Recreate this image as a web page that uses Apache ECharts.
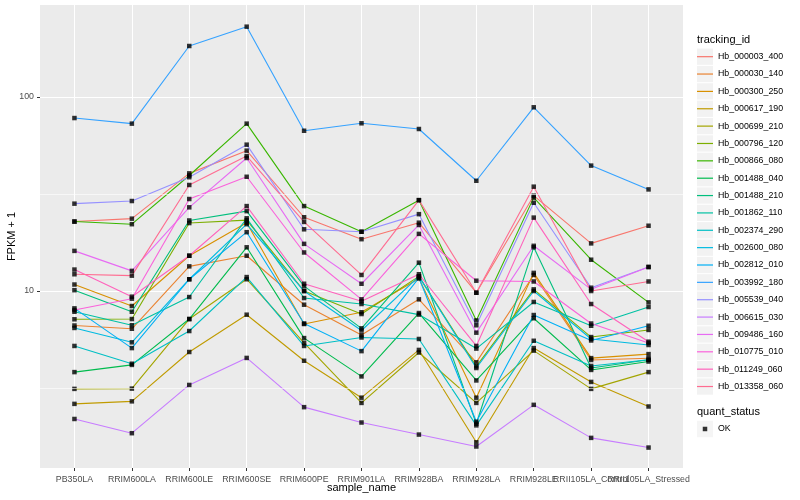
<!DOCTYPE html>
<html><head><meta charset="utf-8">
<script src="https://cdn.jsdelivr.net/npm/echarts@6/dist/echarts.min.js"></script>
<style>html,body{margin:0;padding:0;background:#fff}#c{width:800px;height:500px}</style>
</head><body><div id="c"></div>
<script>
const categories = ['PB350LA','RRIM600LA','RRIM600LE','RRIM600SE','RRIM600PE','RRIM901LA','RRIM928BA','RRIM928LA','RRIM928LE','RRII105LA_Control','RRII105LA_Stressed'];
const trackingIds = ['Hb_000003_400','Hb_000030_140','Hb_000300_250','Hb_000617_190','Hb_000699_210','Hb_000796_120','Hb_000866_080','Hb_001488_040','Hb_001488_210','Hb_001862_110','Hb_002374_290','Hb_002600_080','Hb_002812_010','Hb_003992_180','Hb_005539_040','Hb_006615_030','Hb_009486_160','Hb_010775_010','Hb_011249_060','Hb_013358_060'];
const palette = ['#F8766D','#EA8331','#D89000','#C09B00','#A3A500','#7CAE00','#39B600','#00BB4E','#00BF7D','#00C1A3','#00BFC4','#00BAE0','#00B0F6','#35A2FF','#9590FF','#C77CFF','#E76BF3','#FA62DB','#FF62BC','#FF6C91'];

const hb000003_400 = [22.8, 23.6, 40.4, 52.9, 24.0, 18.5, 22.5, 9.8, 31.0, 17.6, 21.7];
const hb000030_140 = [6.64, 6.39, 13.4, 15.2, 8.50, 5.93, 9.06, 4.29, 12.1, 4.41, 4.50];
const hb000300_250 = [10.8, 8.37, 15.2, 22.5, 6.76, 7.77, 11.6, 2.82, 12.4, 4.51, 4.73];
const hb000617_190 = [2.62, 2.70, 4.85, 7.55, 4.37, 2.82, 4.97, 1.66, 5.08, 3.40, 2.54];
const hb000699_210 = [3.13, 3.14, 7.17, 11.5, 5.40, 2.65, 4.82, 2.65, 4.93, 3.13, 3.82];
const hb000796_120 = [7.15, 7.17, 22.4, 23.2, 10.0, 7.61, 11.9, 4.09, 10.2, 5.79, 6.30];
const hb000866_080 = [22.8, 22.1, 39.4, 72.9, 27.4, 20.2, 29.4, 7.05, 30.3, 14.5, 8.74];
const hb001488_040 = [3.82, 4.16, 7.17, 16.8, 5.72, 3.63, 7.70, 3.46, 7.24, 3.92, 4.33];
const hb001488_210 = [10.1, 7.82, 23.1, 25.8, 10.6, 6.42, 14.0, 2.07, 16.8, 4.01, 4.42];
const hb001862_110 = [7.82, 6.66, 9.31, 23.7, 9.20, 8.57, 7.56, 5.05, 8.78, 6.62, 8.27];
const hb002374_290 = [5.21, 4.22, 6.22, 11.8, 5.21, 5.76, 5.66, 2.03, 5.54, 4.11, 4.42];
const hb002600_080 = [6.45, 5.44, 11.5, 22.1, 10.0, 6.26, 11.9, 4.01, 10.0, 5.66, 5.27];
const hb002812_010 = [8.14, 5.08, 11.5, 20.1, 6.80, 4.90, 11.7, 2.12, 7.52, 5.56, 6.62];
const hb003992_180 = [77.9, 72.9, 183.2, 230.4, 67.0, 73.2, 68.4, 37.0, 88.5, 44.3, 33.4];
const hb005539_040 = [28.2, 29.1, 38.6, 56.8, 20.8, 20.2, 24.9, 6.66, 28.5, 10.4, 13.3];
const hb006615_030 = [2.19, 1.85, 3.28, 4.52, 2.52, 2.10, 1.82, 1.58, 2.59, 1.75, 1.56];
const hb009486_160 = [16.1, 12.7, 27.0, 48.5, 17.5, 10.9, 21.9, 6.10, 17.1, 10.2, 13.3];
const hb010775_010 = [7.98, 9.13, 29.8, 38.8, 15.8, 9.06, 19.7, 11.3, 11.2, 6.80, 5.40];
const hb011249_060 = [12.9, 9.35, 15.2, 27.4, 10.9, 8.85, 12.2, 5.21, 23.9, 8.57, 5.48];
const hb013358_060 = [12.2, 12.0, 35.2, 49.6, 22.7, 12.1, 29.4, 9.8, 34.5, 10.0, 11.2];

const valueRows = [hb000003_400, hb000030_140, hb000300_250, hb000617_190, hb000699_210, hb000796_120, hb000866_080, hb001488_040, hb001488_210, hb001862_110, hb002374_290, hb002600_080, hb002812_010, hb003992_180, hb005539_040, hb006615_030, hb009486_160, hb010775_010, hb011249_060, hb013358_060];

const yMajorTicks = [10, 100];
const yMinorBreaks = [3.1623, 31.623];
const catIdx = categories.map((c, i) => i);
const mainLabelIdx = catIdx.filter(i => i !== 9);
const extraLabelIdx = [9];

const FONT = '"Liberation Sans", Arial, Helvetica, sans-serif';
const chart = echarts.init(document.getElementById('c'), null, {renderer: 'canvas'});

const series = [];
series.push({
  type: 'line', name: '__grid', data: [], z: 1, silent: true,
  markLine: {
    silent: true, symbol: 'none', label: {show: false}, animation: false,
    lineStyle: {color: '#FFFFFF', width: 0.6, type: 'solid'},
    data: yMinorBreaks.map(v => ({yAxis: v}))
  }
});
trackingIds.forEach((id, k) => {
  series.push({
    type: 'line', name: id, z: 2,
    data: valueRows[k].map((v, i) => [i, v]),
    showSymbol: false, symbol: 'none', clip: false,
    color: palette[k],
    lineStyle: {color: palette[k], width: 1.1},
    itemStyle: {color: palette[k]},
    emphasis: {disabled: true}
  });
});
const okPoints = [];
valueRows.forEach(row => row.forEach((v, i) => okPoints.push([i, v])));
series.push({
  type: 'scatter', name: 'OK', z: 3, data: okPoints,
  symbol: 'rect', symbolSize: 4.5, clip: false,
  itemStyle: {color: '#000000'}, emphasis: {disabled: true}
});

const labelStyle = {fontFamily: FONT, fontSize: 8.8, color: '#4D4D4D', margin: 7, hideOverlap: false};
const legendTop = 48;
const pitch = 17.36;
const option = {
  animation: false,
  backgroundColor: '#FFFFFF',
  textStyle: {fontFamily: FONT},
  title: [
    {text: 'tracking_id', left: 697, top: 34, padding: 0, textStyle: {fontFamily: FONT, fontSize: 11, fontWeight: 'normal', color: '#000'}},
    {text: 'quant_status', left: 697, top: 406, padding: 0, textStyle: {fontFamily: FONT, fontSize: 11, fontWeight: 'normal', color: '#000'}}
  ],
  grid: {left: 40, right: 117, top: 5, bottom: 32, show: true, backgroundColor: '#EBEBEB', borderWidth: 0, containLabel: false, outerBoundsMode: 'none'},
  xAxis: [{
    type: 'value', min: -0.6, max: 10.6, position: 'bottom',
    name: 'sample_name', nameLocation: 'middle', nameGap: 14, nameMoveOverlap: false,
    nameTextStyle: {fontFamily: FONT, fontSize: 11, color: '#000'},
    axisLine: {show: false, onZero: false},
    axisTick: {show: true, customValues: catIdx, length: 3, lineStyle: {color: '#333333', width: 1}},
    axisLabel: Object.assign({customValues: mainLabelIdx, formatter: v => categories[Math.round(v)] || ''}, labelStyle),
    splitLine: {show: true, lineStyle: {color: '#FFFFFF', width: 1}}
  }, {
    type: 'value', min: -0.6, max: 10.6, position: 'bottom', gridIndex: 0,
    axisLine: {show: false, onZero: false},
    axisTick: {show: false},
    axisLabel: Object.assign({customValues: extraLabelIdx, formatter: v => categories[Math.round(v)] || ''}, labelStyle),
    splitLine: {show: false}
  }],
  yAxis: {
    type: 'log', logBase: 10, min: 1.224, max: 298,
    name: 'FPKM + 1', nameLocation: 'middle', nameGap: 23, nameRotate: 90, nameMoveOverlap: false,
    nameTextStyle: {fontFamily: FONT, fontSize: 11, color: '#000'},
    axisLine: {show: false, onZero: false},
    axisTick: {show: true, customValues: yMajorTicks, length: 3, lineStyle: {color: '#333333', width: 1}},
    axisLabel: {customValues: yMajorTicks, formatter: v => String(Math.round(v)), fontFamily: FONT, fontSize: 8.8, color: '#4D4D4D', margin: 6},
    splitLine: {show: true, lineStyle: {color: '#FFFFFF', width: 1}}
  },
  legend: [
    {
      orient: 'vertical', left: 697, top: legendTop, itemGap: 0, padding: 0,
      icon: 'rect', itemWidth: 16, itemHeight: 16.3,
      itemStyle: {color: '#F2F2F2', borderWidth: 0},
      data: trackingIds, selectedMode: false,
      textStyle: {fontFamily: FONT, fontSize: 8.8, lineHeight: pitch, color: 'rgba(0,0,0,0)'}
    },
    {
      orient: 'vertical', left: 697, top: legendTop, itemGap: 0, padding: 0,
      icon: 'rect', itemWidth: 16, itemHeight: 1.2,
      data: trackingIds, selectedMode: false,
      textStyle: {fontFamily: FONT, fontSize: 8.8, lineHeight: pitch, color: '#000'}
    },
    {
      orient: 'vertical', left: 697, top: 420.3, itemGap: 0, padding: 0,
      icon: 'rect', itemWidth: 16, itemHeight: 16.3,
      itemStyle: {color: '#F2F2F2', borderWidth: 0},
      data: ['OK'], selectedMode: false,
      textStyle: {fontFamily: FONT, fontSize: 8.8, lineHeight: pitch, color: '#000'}
    },
    {
      orient: 'vertical', left: 702.75, top: 420.3, itemGap: 0, padding: 0,
      icon: 'rect', itemWidth: 4.5, itemHeight: 4.5,
      data: ['OK'], selectedMode: false,
      textStyle: {fontFamily: FONT, fontSize: 8.8, lineHeight: pitch, color: 'rgba(0,0,0,0)'}
    }
  ],
  series: series
};
chart.setOption(option);
</script></body></html>
